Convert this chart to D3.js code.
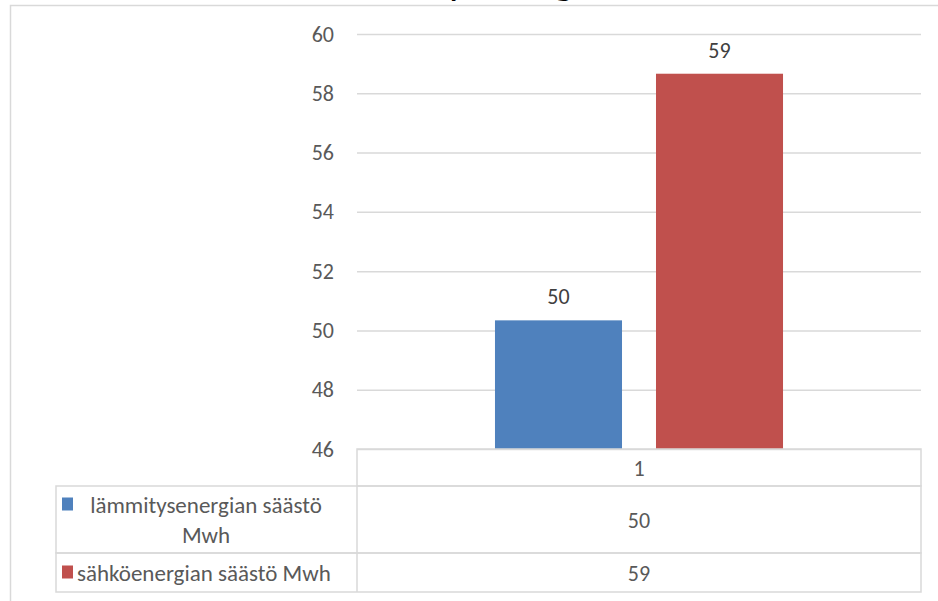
<!DOCTYPE html>
<html>
<head>
<meta charset="utf-8">
<script src="https://cdn.jsdelivr.net/npm/d3@7"></script>
<style>
  body { margin: 0; background: #fff; }
  svg { display: block; font-family: Carlito, Calibri, Lato, sans-serif; }
</style>
</head>
<body>
<svg id="chart"></svg>
<script>
// Data
const categories = ["1"];
const seriesNames = ["lämmitysenergian säästö Mwh", "sähköenergian säästö Mwh"];
const seriesValues = [50.34, 58.66];
const seriesColors = ["#4f81bd", "#c0504d"];
const yTicks = [46, 48, 50, 52, 54, 56, 58, 60];
const title = "Säästetty energia";

const width = 938;
const height = 601;
const plot = {left: 357, right: 921, top: 34, bottom: 449};
const gridColor = "#d9d9d9";
const textColor = "#595959";
const fontSize = 23;

const svg = d3.select("#chart")
    .attr("width", width)
    .attr("height", height);

// Outer chart border (only top and left visible)
svg.append("path")
    .attr("d", `M10.5,${height} V5.5 H${width}`)
    .attr("fill", "none")
    .attr("stroke", gridColor)
    .attr("stroke-width", 1.5);

// Title, mostly cut off by the top edge like in the reference
svg.append("text")
    .attr("x", 457)
    .attr("y", -6)
    .attr("text-anchor", "middle")
    .attr("font-size", 42)
    .attr("fill", "#000")
    .text(title);

// Scales
const y = d3.scaleLinear()
    .domain([46, 60])
    .range([plot.bottom, plot.top]);

const x0 = d3.scaleBand()
    .domain(categories)
    .range([plot.left, plot.right])
    .paddingInner(0)
    .paddingOuter(0.479);

const x1 = d3.scaleBand()
    .domain(seriesNames)
    .range([0, x0.bandwidth()])
    .paddingInner(0.211)
    .paddingOuter(0);

// Gridlines and tick labels
const yAxis = svg.append("g")
    .attr("transform", `translate(${plot.left},0)`)
    .call(d3.axisLeft(y)
        .tickValues(yTicks)
        .tickSize(-(plot.right - plot.left))
        .tickPadding(23));
yAxis.select(".domain").remove();
yAxis.selectAll(".tick line")
    .attr("stroke", gridColor)
    .attr("stroke-width", 1.5);
yAxis.selectAll(".tick text")
    .attr("fill", textColor)
    .attr("font-size", 22)
    .attr("font-family", "Carlito, Calibri, Lato, sans-serif");

// Bars
const groups = svg.selectAll(".cat")
    .data(categories)
    .enter()
    .append("g")
    .attr("transform", d => `translate(${x0(d)},0)`);

seriesNames.forEach((name, i) => {
    groups.append("rect")
        .attr("x", x1(name))
        .attr("y", y(seriesValues[i]))
        .attr("width", x1.bandwidth())
        .attr("height", plot.bottom - y(seriesValues[i]))
        .attr("fill", seriesColors[i]);

    groups.append("text")
        .attr("x", x1(name) + x1.bandwidth() / 2)
        .attr("y", y(seriesValues[i]) - 16)
        .attr("text-anchor", "middle")
        .attr("font-size", 22)
        .attr("fill", "#404040")
        .text(Math.round(seriesValues[i]));
});

// Data table under the plot
const tableLeft = 56;
const rowY = [plot.bottom, 486, 553, 592];
const table = svg.append("g")
    .attr("fill", "none")
    .attr("stroke", gridColor)
    .attr("stroke-width", 1.5);

// header cell
table.append("rect")
    .attr("x", plot.left)
    .attr("y", rowY[0])
    .attr("width", plot.right - plot.left)
    .attr("height", rowY[1] - rowY[0]);

// series rows
seriesNames.forEach((name, i) => {
    table.append("rect")
        .attr("x", tableLeft)
        .attr("y", rowY[i + 1])
        .attr("width", plot.right - tableLeft)
        .attr("height", rowY[i + 2] - rowY[i + 1]);
    table.append("line")
        .attr("x1", plot.left)
        .attr("x2", plot.left)
        .attr("y1", rowY[i + 1])
        .attr("y2", rowY[i + 2]);
});

// category label in header
categories.forEach(c => {
    svg.append("text")
        .attr("x", x0(c) + x0.bandwidth() / 2)
        .attr("y", (rowY[0] + rowY[1]) / 2 + 8)
        .attr("text-anchor", "middle")
        .attr("font-size", 22)
        .attr("fill", textColor)
        .text(c);
});

// legend keys, names and values in the rows
const rowLines = [["lämmitysenergian säästö", "Mwh"], ["sähköenergian säästö Mwh"]];
seriesNames.forEach((name, i) => {
    const top = rowY[i + 1];
    const bottom = rowY[i + 2];
    const mid = (top + bottom) / 2;
    const lines = rowLines[i];
    const lineH = 30;
    const firstBase = mid - (lines.length - 1) * lineH / 2 + 8;

    svg.append("rect")
        .attr("x", 62)
        .attr("y", firstBase - 15)
        .attr("width", 11)
        .attr("height", 13)
        .attr("fill", seriesColors[i]);

    const textCenter = 206;
    lines.forEach((ln, j) => {
        svg.append("text")
            .attr("x", i === 1 ? 77 : textCenter)
            .attr("y", firstBase + j * lineH)
            .attr("text-anchor", i === 1 ? "start" : "middle")
            .attr("font-size", fontSize)
            .attr("fill", textColor)
            .text(ln);
    });

    categories.forEach(c => {
        svg.append("text")
            .attr("x", x0(c) + x0.bandwidth() / 2)
            .attr("y", mid + 8)
            .attr("text-anchor", "middle")
            .attr("font-size", 22)
            .attr("fill", textColor)
            .text(Math.round(seriesValues[i]));
    });
});
</script>
</body>
</html>
